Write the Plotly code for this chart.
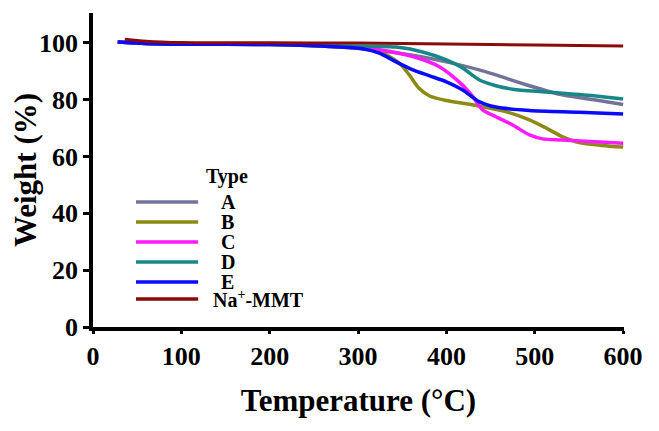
import plotly.graph_objects as go

# ---- data ----
series_names = ["A", "B", "C", "D", "E", "Na<sup>+</sup>-MMT"]
series_colors = ["#737399", "#8a8a14", "#ff1aff", "#178787", "#0a0aff", "#8b0a0a"]

temp_A = [28, 60, 100, 200, 268, 305, 343, 373, 400, 437, 456, 494, 531, 569, 600]
weight_A = [100.3, 99.8, 99.5, 99.4, 98.7, 97.9, 96.5, 95.0, 93.3, 90.5, 88.7, 84.9, 81.7, 79.9, 78.3]

temp_B = [28, 60, 100, 200, 268, 305, 324, 347, 358, 369, 381, 400, 437, 467, 494, 513, 531, 550, 576, 600]
weight_B = [100.3, 99.8, 99.5, 99.4, 98.7, 98.0, 97.0, 92.8, 88.7, 84.0, 81.3, 79.7, 77.8, 75.8, 72.9, 70.0, 67.0, 64.9, 63.9, 63.3]

temp_C = [28, 60, 100, 200, 268, 324, 362, 392, 418, 430, 441, 456, 475, 494, 509, 531, 600]
weight_C = [100.3, 99.8, 99.5, 99.5, 99.1, 97.6, 95.2, 91.6, 85.2, 81.0, 76.4, 74.0, 71.1, 67.6, 66.2, 65.8, 64.7]

temp_D = [28, 60, 100, 200, 268, 343, 373, 400, 418, 437, 456, 475, 513, 569, 600]
weight_D = [100.3, 99.8, 99.5, 99.5, 99.0, 98.5, 96.8, 94.0, 91.2, 87.0, 84.9, 83.7, 82.7, 81.3, 80.2]

temp_E = [28, 60, 100, 200, 268, 305, 324, 343, 362, 381, 400, 418, 437, 456, 494, 550, 600]
weight_E = [100.3, 99.8, 99.5, 99.4, 98.7, 97.9, 96.4, 93.3, 90.5, 88.4, 86.3, 83.5, 79.3, 77.4, 76.2, 75.6, 75.0]

temp_Na = [36, 60, 100, 200, 300, 400, 500, 600]
weight_Na = [101.3, 100.6, 100.1, 100.0, 99.9, 99.6, 99.2, 98.9]

x_ticks = [0, 100, 200, 300, 400, 500, 600]
y_ticks = [0, 20, 40, 60, 80, 100]

temps = [temp_A, temp_B, temp_C, temp_D, temp_E, temp_Na]
weights = [weight_A, weight_B, weight_C, weight_D, weight_E, weight_Na]

FONT = "Liberation Serif"

fig = go.Figure()
for name, color, t, w in zip(series_names, series_colors, temps, weights):
    fig.add_trace(go.Scatter(
        x=t, y=w, mode="lines", name=name,
        line=dict(color=color, width=3.5 if name != series_names[-1] else 3,
                  shape="spline", smoothing=0.8),
        showlegend=False,
    ))

# manual legend (compact spacing like the reference)
leg_y = [0.398, 0.334, 0.271, 0.207, 0.143, 0.089]
shapes = []
annotations = [dict(text="Type", x=0.252, y=0.478, xref="paper", yref="paper",
                    showarrow=False, xanchor="center", yanchor="middle",
                    font=dict(family=FONT, size=20, color="black", weight="bold"))]
for name, color, yy in zip(series_names, series_colors, leg_y):
    shapes.append(dict(type="line", xref="paper", yref="paper",
                       x0=0.081, x1=0.198, y0=yy, y1=yy,
                       line=dict(color=color, width=3.5)))
    xl = 0.222 if name == series_names[-1] else 0.237
    annotations.append(dict(text=name, x=xl, y=yy, xref="paper", yref="paper",
                            showarrow=False, xanchor="left", yanchor="middle",
                            font=dict(family=FONT, size=20, color="black", weight="bold")))

# page body has an 8px margin, so the figure is 8px smaller and margins shifted
fig.update_layout(
    width=651, height=423,
    margin=dict(l=85, r=35, t=5, b=104),
    paper_bgcolor="white", plot_bgcolor="white",
    shapes=shapes, annotations=annotations,
    xaxis=dict(
        range=[0, 601], tickvals=x_ticks, showgrid=False, zeroline=False,
        showline=True, linecolor="black", linewidth=3.5,
        ticks="outside", ticklen=3, tickwidth=3, tickcolor="black",
        ticklabelstandoff=0,
        tickfont=dict(family=FONT, size=26, color="black", weight="bold"),
        title=dict(text="Temperature (°C)", standoff=20,
                   font=dict(family=FONT, size=31, color="black", weight="bold")),
    ),
    yaxis=dict(
        range=[0, 110.5], tickvals=y_ticks, showgrid=False, zeroline=False,
        showline=True, linecolor="black", linewidth=3.5,
        ticks="outside", ticklen=6, tickwidth=3, tickcolor="black",
        tickfont=dict(family=FONT, size=26, color="black", weight="bold"),
        title=dict(text="Weight (%)", standoff=2,
                   font=dict(family=FONT, size=31, color="black", weight="bold")),
    ),
)

fig.write_html("out.html")
